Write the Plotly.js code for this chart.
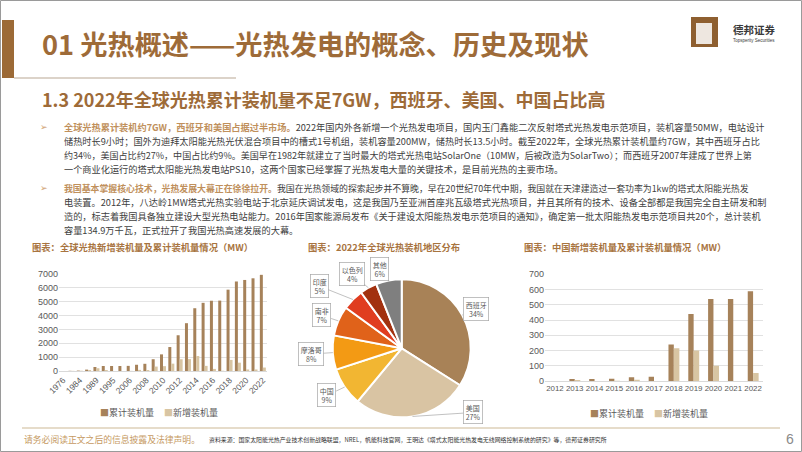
<!DOCTYPE html>
<html><head><meta charset="utf-8">
<script src="https://cdn.plot.ly/plotly-3.0.1.min.js"></script>
<style>html,body{margin:0;padding:0;background:#fff;} #chart{width:802px;height:452px;}</style>
</head><body><div id="chart"></div>
<script>
// ---------- data ----------
const globalYears = ['1976','1982','1984','1985','1989','1990','1995','2000','2006','2007','2008','2009','2010','2011','2012','2013','2014','2015','2016','2017','2018','2019','2020','2021','2022'];
const globalCumulative = [1,14,30,100,290,360,360,360,370,450,520,850,1200,1730,2580,3450,4530,4920,5070,5080,5870,6460,6570,6690,6940];
const globalNew = [0,10,20,70,200,70,0,0,10,80,70,320,350,530,850,860,1080,370,150,20,800,600,110,110,250];
const pieRegions = ['西班牙','美国','中国','摩洛哥','南非','印度','以色列','其他'];
const pieShares = [34,27,9,8,7,5,4,6];
const chinaYears = ['2012','2013','2014','2015','2016','2017','2018','2019','2020','2021','2022'];
const chinaCumulative = [0,13,13,15,24,28,240,440,538,538,588];
const chinaNew = [0,6,0,2,8,0,215,200,100,0,52];
const seriesNames = ['累计装机量','新增装机量'];

// ---------- styles ----------
const W = 802, H = 452;
const px = x => x / W, py = y => 1 - y / H;
const CUM = '#A6825A', NEW = '#D8C5A3';
const pieColors = ['#A88257','#D9C4A3','#F2B632','#F39A14','#E0621A','#E03D20','#A2310F','#7F7F7F'];
const TITLE = '#9E6B38', HL = '#C0905C', BODY = '#404040', TICK = '#595959', GRID = '#D9D9D9';
const CJK = '"Noto Sans CJK SC", sans-serif';
const NUM = '"Liberation Sans", "Noto Sans CJK SC", sans-serif';

// pie geometry (layout)
const pieCx = 401.7, pieCy = 348.3, pieR = 69;
const labelRadius = [1.21,1.39,1.28,1.32,1.25,1.5,1.3,1.2];
const labelShift = [1,-39,2,0,-1,-8,-5,-5];

const traces = [
  {type:'bar', x:globalYears, y:globalCumulative, name:seriesNames[0], marker:{color:CUM}, xaxis:'x', yaxis:'y', width:0.36, offset:-0.36, hoverinfo:'none', showlegend:false},
  {type:'bar', x:globalYears, y:globalNew, name:seriesNames[1], marker:{color:NEW}, xaxis:'x', yaxis:'y', width:0.36, offset:0, hoverinfo:'none', showlegend:false},
  {type:'bar', x:chinaYears, y:chinaCumulative, name:seriesNames[0], marker:{color:CUM}, xaxis:'x2', yaxis:'y2', width:0.27, offset:-0.27, hoverinfo:'none', showlegend:false},
  {type:'bar', x:chinaYears, y:chinaNew, name:seriesNames[1], marker:{color:NEW}, xaxis:'x2', yaxis:'y2', width:0.28, offset:0, hoverinfo:'none', showlegend:false},
  {type:'pie', labels:pieRegions, values:pieShares, sort:false, direction:'clockwise', rotation:0,
   marker:{colors:pieColors, line:{color:'#fff', width:2}}, textinfo:'none', hoverinfo:'none', showlegend:false,
   domain:{x:[px(pieCx-pieR), px(pieCx+pieR)], y:[py(pieCy+pieR), py(pieCy-pieR)]}}
];

const ann = [];
const A = (x, y, text, o) => ann.push(Object.assign({xref:'paper', yref:'paper', x:px(x), y:py(y), text, showarrow:false, xanchor:'left', yanchor:'middle', font:{family:CJK, size:10, color:BODY}}, o||{}));

// header
A(40, 43, '<b>01 光热概述——光热发电的概念、历史及现状</b>', {font:{family:CJK, size:27.2, color:TITLE}});
A(40, 99, '<b>1.3 2022年全球光热累计装机量不足7GW，西班牙、美国、中国占比高</b>', {font:{family:CJK, size:18, color:TITLE}});
A(731, 30, '<b>德邦证券</b>', {font:{family:CJK, size:10.5, color:'#3a3a3a'}});
A(731, 41, 'Topsperity Securities', {font:{family:NUM, size:4.5, color:'#3a3a3a'}});

// body text: [y, text, font size]
const bodyLines = [
  [127, '<b><span style="color:'+HL+'">全球光热累计装机约7GW，西班牙和美国占据过半市场。</span></b>2022年国内外各新增一个光热发电项目，国内玉门鑫能二次反射塔式光热发电示范项目，装机容量50MW，电站设计', 9.2],
  [141, '储热时长9小时；国外为迪拜太阳能光热光伏混合项目中的槽式1号机组，装机容量200MW，储热时长13.5小时。截至2022年，全球光热累计装机量约7GW，其中西班牙占比', 9.2],
  [155, '约34%，美国占比约27%，中国占比约9%。美国早在1982年就建立了当时最大的塔式光热电站SolarOne（10MW，后被改造为SolarTwo）；而西班牙2007年建成了世界上第', 9.05],
  [169, '一个商业化运行的塔式太阳能光热发电站PS10，这两个国家已经掌握了光热发电大量的关键技术，是目前光热的主要市场。', 9.2],
  [188, '<b><span style="color:'+HL+'">我国基本掌握核心技术，光热发展大幕正在徐徐拉开。</span></b>我国在光热领域的探索起步并不算晚，早在20世纪70年代中期，我国就在天津建造过一套功率为1kw的塔式太阳能光热发', 8.9],
  [202, '电装置。2012年，八达岭1MW塔式光热实验电站于北京延庆调试发电，这是我国乃至亚洲首座兆瓦级塔式光热项目，并且其所有的技术、设备全部都是我国完全自主研发和制', 9.2],
  [216, '造的，标志着我国具备独立建设大型光热电站能力。2016年国家能源局发布《关于建设太阳能热发电示范项目的通知》，确定第一批太阳能热发电示范项目共20个，总计装机', 9.2],
  [230, '容量134.9万千瓦，正式拉开了我国光热高速发展的大幕。', 9.2]
];
bodyLines.forEach(l => A(62, l[0], l[1], {font:{family:CJK, size:l[2], color:BODY}}));
A(38, 127, '➢', {font:{family:'DejaVu Sans', size:9, color:'#D0A070'}});
A(38, 188, '➢', {font:{family:'DejaVu Sans', size:9, color:'#D0A070'}});

// chart titles
A(30, 247, '<b>图表：全球光热新增装机量及累计装机量情况（MW）</b>', {font:{family:CJK, size:9.3, color:'#A8743F'}});
A(306, 247, '<b>图表：2022年全球光热装机地区分布</b>', {font:{family:CJK, size:9.3, color:'#A8743F'}});
A(522, 247, '<b>图表：中国新增装机量及累计装机量情况（MW）</b>', {font:{family:CJK, size:9.3, color:'#A8743F'}});

// legends
const legend = (x, y) => {
  A(x, y, '<span style="color:'+CUM+'">■</span>'+seriesNames[0], {font:{family:CJK, size:9, color:TICK}});
  A(x+64, y, '<span style="color:'+NEW+'">■</span>'+seriesNames[1], {font:{family:CJK, size:9, color:TICK}});
};
legend(98, 412);
legend(588, 413);

// pie labels
const total = pieShares.reduce((a,b)=>a+b,0);
let cum = 0;
pieRegions.forEach((r, i) => {
  const mid = (cum + pieShares[i]/2) / total * 360; cum += pieShares[i];
  const a0 = mid * Math.PI/180;
  const ex = pieCx + pieR*Math.sin(a0), ey = pieCy - pieR*Math.cos(a0);
  const a1 = (mid + labelShift[i]) * Math.PI/180;
  const lx = pieCx + pieR*labelRadius[i]*Math.sin(a1), ly = pieCy - pieR*labelRadius[i]*Math.cos(a1);
  ann.push({xref:'paper', yref:'paper', x:px(ex), y:py(ey), ax:lx-ex, ay:ly-ey,
    text: r + '<br>' + Math.round(pieShares[i]/total*100) + '%', showarrow:true, arrowhead:0, arrowwidth:0.7,
    arrowcolor:'#A6A6A6', standoff:0, bordercolor:'#A6A6A6', borderwidth:0.7, borderpad:2, bgcolor:'#fff',
    font:{family:CJK, size:7, color:TICK}});
});

// footer
A(22, 439, '请务必阅读正文之后的信息披露及法律声明。', {font:{family:CJK, size:8.8, color:'#C69A63'}});
A(207, 439, '资料来源：国家太阳能光热产业技术创新战略联盟，NREL，帆能科技官网，王明达《塔式太阳能光热发电无线网络控制系统的研究》等，德邦证券研究所', {font:{family:CJK, size:5.9, color:'#333'}});
A(784, 439, '6', {font:{family:NUM, size:14, color:'#8a8a8a'}});

const shapes = [
  {type:'rect', xref:'paper', yref:'paper', x0:px(0.5), x1:px(801.5), y0:py(451.5), y1:py(0.5), line:{color:'#9a9a9a', width:1}},
  {type:'rect', xref:'paper', yref:'paper', x0:px(2), x1:px(14), y0:py(78), y1:py(20), fillcolor:'#9C6A36', line:{width:0}},
  {type:'line', xref:'paper', yref:'paper', x0:px(14), x1:px(236), y0:py(78), y1:py(78), line:{color:'#DCD3C9', width:2}},
  {type:'rect', xref:'paper', yref:'paper', x0:px(691), x1:px(718), y0:py(47), y1:py(17), fillcolor:'#8E5F30', line:{width:0}},
  {type:'rect', xref:'paper', yref:'paper', x0:px(696), x1:px(712), y0:py(44), y1:py(23), fillcolor:'#ffffff', line:{width:0}, opacity:0.85},
  {type:'line', xref:'paper', yref:'paper', x0:px(22), x1:px(780), y0:py(428), y1:py(428), line:{color:'#CDB996', width:1.2}}
];

const axisBase = {showgrid:false, zeroline:false, ticks:'', showline:true, linecolor:GRID, linewidth:1, fixedrange:true,
  tickfont:{family:NUM, size:8.5, color:TICK}, type:'category'};
const yBase = {showgrid:true, gridcolor:GRID, gridwidth:0.8, zeroline:false, ticks:'', showline:false, fixedrange:true,
  tickformat:'d', tickfont:{family:NUM, size:9, color:TICK}};

const layout = {
  width:W, height:H, margin:{l:0,r:0,t:0,b:0}, paper_bgcolor:'#fff', plot_bgcolor:'rgba(0,0,0,0)',
  showlegend:false, barmode:'group', font:{family:CJK},
  xaxis: Object.assign({}, axisBase, {domain:[px(59), px(267)], anchor:'y', tickangle:-45,
    tickmode:'array', tickvals: globalYears.filter((_, i) => i % 2 === 0)}),
  yaxis: Object.assign({}, yBase, {domain:[py(371), py(274)], anchor:'x', range:[0,7000], dtick:1000}),
  xaxis2: Object.assign({}, axisBase, {domain:[px(545), px(763)], anchor:'y2', tickangle:0, tickfont:{family:NUM, size:7.9, color:TICK}}),
  yaxis2: Object.assign({}, yBase, {domain:[py(381), py(274.3)], anchor:'x2', range:[0,700], dtick:100}),
  annotations: ann, shapes: shapes
};
Plotly.newPlot('chart', traces, layout, {displayModeBar:false, staticPlot:true});
</script></body></html>
